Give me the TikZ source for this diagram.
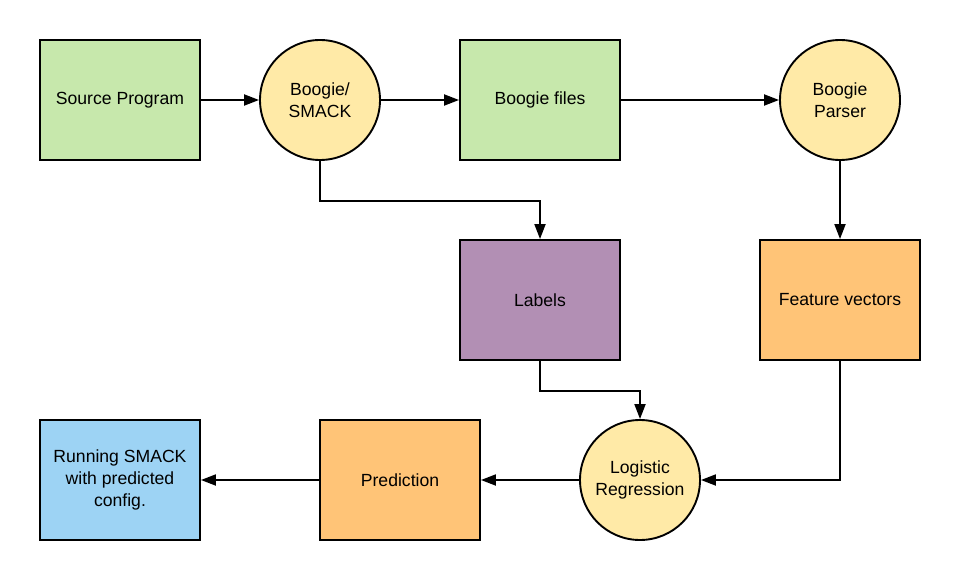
\documentclass[tikz,border=0pt]{standalone}
\usepackage{fontspec}
\setmainfont{Liberation Sans}
\usetikzlibrary{arrows.meta}
\definecolor{cgreen}{HTML}{C7E8AC}
\definecolor{cyellow}{HTML}{FFEAA7}
\definecolor{cpurple}{HTML}{B28FB4}
\definecolor{corange}{HTML}{FFC477}
\definecolor{cblue}{HTML}{9DD3F4}
\begin{document}
\begin{tikzpicture}[x=1pt,y=-1pt,
  box/.style={draw=black,line width=1.9pt,minimum width=160pt,minimum height=120pt,inner sep=2pt,align=center,font=\fontsize{17.6}{22}\selectfont},
  circ/.style={draw=black,line width=1.9pt,circle,minimum size=120pt,inner sep=0pt,fill=cyellow,align=center,font=\fontsize{17.6}{22}\selectfont},
  conn/.style={line width=1.9pt,-{Triangle[length=15pt,width=11pt]}}]
\path[use as bounding box] (0,0) rectangle (960,580);
\node[box,fill=cgreen] (src) at (120,100) {Source Program};
\node[circ] (smack) at (320,100) {Boogie/\\SMACK};
\node[box,fill=cgreen] (bfiles) at (540,100) {Boogie files};
\node[circ] (parser) at (840,100) {Boogie\\Parser};
\node[box,fill=cpurple] (labels) at (540,300) {Labels};
\node[box,fill=corange] (feat) at (840,300) {Feature vectors};
\node[circ] (logreg) at (640,480) {Logistic\\Regression};
\node[box,fill=corange] (pred) at (400,480) {Prediction};
\node[box,fill=cblue] (run) at (120,480) {Running SMACK\\with predicted\\config.};
\draw[conn] (src) -- (smack);
\draw[conn] (smack) -- (bfiles);
\draw[conn] (bfiles) -- (parser);
\draw[conn] (smack.south) -- ++(0,40) -| (labels.north);
\draw[conn] (parser) -- (feat);
\draw[conn] (labels.south) -- ++(0,30) -| (logreg.north);
\draw[conn] (feat.south) |- (logreg.east);
\draw[conn] (logreg) -- (pred);
\draw[conn] (pred) -- (run);
\end{tikzpicture}
\end{document}
